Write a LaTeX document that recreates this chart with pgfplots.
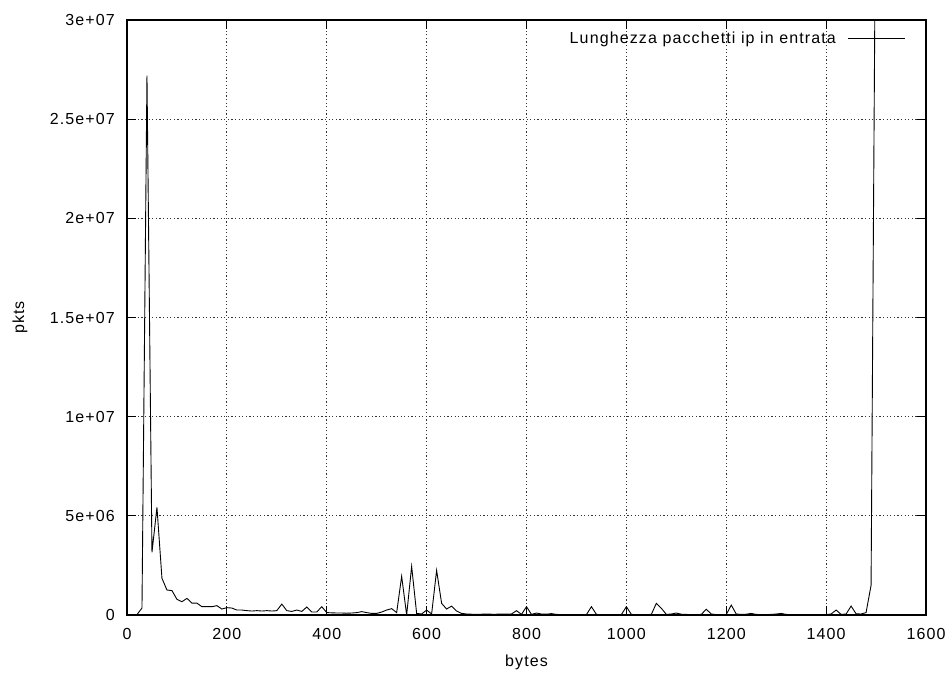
\documentclass[border=0pt]{standalone}
\usepackage{fontspec}
\setmainfont[LetterSpace=7]{Liberation Sans}
\usepackage{pgfplots}
\pgfplotsset{compat=1.18}
\usepackage{pgfplotstable}

% Packet length histogram (10-byte bins), incoming IP traffic
\pgfplotstableread{
bytes pkts
20 20000
30 350000
40 27200000
50 3160000
60 5430000
70 1850000
80 1260000
90 1230000
100 790000
110 670000
120 840000
130 600000
140 600000
150 420000
160 420000
170 420000
180 470000
190 300000
200 370000
210 350000
220 250000
230 250000
240 220000
250 200000
260 220000
270 200000
280 220000
290 200000
300 220000
310 550000
320 220000
330 180000
340 250000
350 180000
360 400000
370 150000
380 150000
390 420000
400 120000
410 110000
420 100000
430 100000
440 90000
450 100000
460 120000
470 170000
480 120000
490 80000
500 80000
510 150000
520 250000
530 320000
540 120000
550 1950000
560 0
570 2450000
580 80000
590 50000
600 250000
610 50000
620 2250000
630 590000
640 300000
650 450000
660 200000
670 80000
680 50000
690 40000
700 40000
710 40000
720 50000
730 40000
740 40000
750 50000
760 40000
770 50000
780 220000
790 30000
800 420000
810 30000
820 100000
830 50000
840 40000
850 70000
860 30000
870 20000
880 20000
890 20000
900 20000
910 20000
920 20000
930 420000
940 30000
950 20000
960 20000
970 20000
980 20000
990 20000
1000 420000
1010 30000
1020 20000
1030 20000
1040 20000
1050 30000
1060 590000
1070 340000
1080 30000
1090 50000
1100 100000
1110 40000
1120 30000
1130 20000
1140 20000
1150 30000
1160 290000
1170 50000
1180 20000
1190 20000
1200 20000
1210 500000
1220 50000
1230 30000
1240 40000
1250 80000
1260 30000
1270 20000
1280 20000
1290 30000
1300 50000
1310 80000
1320 30000
1330 20000
1340 20000
1350 20000
1360 20000
1370 20000
1380 20000
1390 20000
1400 20000
1410 50000
1420 250000
1430 30000
1440 50000
1450 450000
1460 60000
1470 50000
1480 120000
1490 1500000
1500 40000000
}\pktlen

\newcommand{\gpfont}{\fontsize{16bp}{19bp}\selectfont}

\begin{document}
\begin{tikzpicture}
\useasboundingbox (-127bp,-62bp) rectangle (825bp,615bp);
\begin{axis}[
  at={(0,0)}, anchor=south west,
  scale only axis,
  width=799bp, height=595bp,
  font=\gpfont,
  /pgf/number format/assume math mode=true,
  xmin=0, xmax=1600, ymin=0, ymax=30000000,
  xtick={0,200,...,1600},
  xticklabels={0,200,400,600,800,1000,1200,1400,1600},
  ytick={0,5000000,10000000,15000000,20000000,25000000,30000000},
  yticklabels={0,5e+06,1e+07,1.5e+07,2e+07,2.5e+07,3e+07},
  scaled y ticks=false,
  xticklabel style={font=\gpfont, anchor=north, inner sep=0pt, yshift=-13bp},
  yticklabel style={font=\gpfont, anchor=east, inner sep=0pt, xshift=-12bp},
  tick align=inside,
  major tick length=9bp,
  tick style={black, line width=1bp},
  axis line style={black, line width=1.5bp},
  grid=major,
  major grid style={black!80, line width=0.9bp, dash pattern=on 1.2bp off 2.4bp},
  xlabel={bytes}, ylabel={pkts},
  every axis x label/.style={at={(axis description cs:0.5,0)}, anchor=center,
    yshift=-47bp, font=\gpfont},
  every axis y label/.style={at={(axis description cs:-0.1339,0.5)},
    anchor=center, rotate=90, font=\gpfont},
  legend plot pos=right,
  legend cell align=right,
  legend style={at={(1,1)}, anchor=north east, xshift=-17bp, yshift=-8bp,
    draw=none, fill=none, font=\gpfont},
  legend image code/.code={\path (0bp,0bp); \draw[#1] (10bp,0bp) -- (67bp,0bp);},
]
\addplot[black, line width=0.9bp, mark=none] table[x=bytes, y=pkts] {\pktlen};
\addlegendentry{Lunghezza pacchetti ip in entrata}
\end{axis}
\end{tikzpicture}
\end{document}
